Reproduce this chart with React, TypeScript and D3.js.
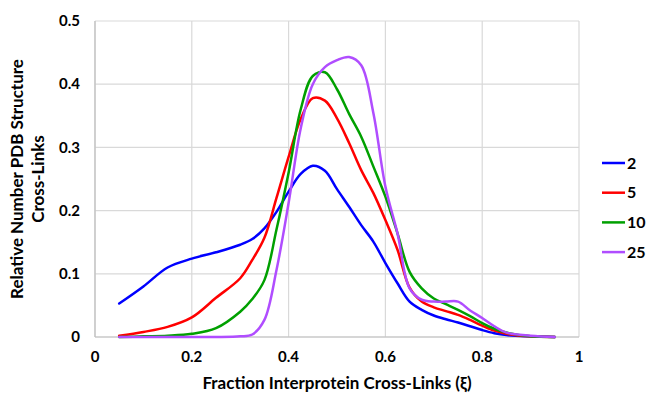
import React from "react";
import * as d3 from "d3";

const xValues = [0.05, 0.1, 0.15, 0.2, 0.25, 0.3, 0.325, 0.35, 0.375, 0.4, 0.425, 0.45, 0.475, 0.5, 0.525, 0.55, 0.575, 0.6, 0.625, 0.65, 0.675, 0.7, 0.725, 0.75, 0.775, 0.8, 0.825, 0.85, 0.9, 0.95];

const series2 = [0.053, 0.08, 0.11, 0.124, 0.134, 0.146, 0.155, 0.172, 0.198, 0.23, 0.258, 0.271, 0.263, 0.234, 0.206, 0.177, 0.151, 0.117, 0.085, 0.056, 0.043, 0.034, 0.028, 0.023, 0.017, 0.011, 0.006, 0.003, 0.001, 0];
const series5 = [0.002, 0.008, 0.016, 0.031, 0.062, 0.093, 0.122, 0.157, 0.22, 0.285, 0.345, 0.378, 0.374, 0.346, 0.307, 0.264, 0.228, 0.185, 0.138, 0.078, 0.056, 0.047, 0.041, 0.035, 0.027, 0.018, 0.01, 0.005, 0.001, 0];
const series10 = [0, 0.001, 0.002, 0.005, 0.014, 0.04, 0.06, 0.09, 0.17, 0.26, 0.36, 0.413, 0.419, 0.392, 0.353, 0.317, 0.27, 0.222, 0.164, 0.103, 0.077, 0.061, 0.052, 0.043, 0.033, 0.022, 0.013, 0.007, 0.001, 0];
const series25 = [0, 0, 0, 0, 0, 0.001, 0.004, 0.027, 0.106, 0.212, 0.33, 0.4, 0.427, 0.438, 0.443, 0.43, 0.355, 0.238, 0.164, 0.077, 0.059, 0.056, 0.056, 0.056, 0.042, 0.03, 0.017, 0.007, 0.002, 0];

const seriesNames = ["2", "5", "10", "25"];
const seriesColors = ["#0000ff", "#ff0000", "#00a000", "#b04dff"];
const seriesValues = [series2, series5, series10, series25];

const xTicks = [0, 0.2, 0.4, 0.6, 0.8, 1];
const xTickLabels = ["0", "0.2", "0.4", "0.6", "0.8", "1"];
const yTicks = [0, 0.1, 0.2, 0.3, 0.4, 0.5];
const yTickLabels = ["0", "0.1", "0.2", "0.3", "0.4", "0.5"];

const W = 647;
const H = 394;
const M = { left: 95, right: 579, top: 21, bottom: 337 };
const FONT = "Lato, 'Open Sans', sans-serif";

export default function App() {
  const x = d3.scaleLinear().domain([0, 1]).range([M.left, M.right]);
  const y = d3.scaleLinear().domain([0, 0.5]).range([M.bottom, M.top]);
  const line = d3
    .line<[number, number]>()
    .x((d) => x(d[0]))
    .y((d) => Math.min(y(d[1]), M.bottom))
    .curve(d3.curveCatmullRom.alpha(0.5));

  return (
    <svg
      width={W}
      height={H}
      style={{ position: "absolute", left: 0, top: 0, background: "#fff" }}
      fontFamily={FONT}
      fontWeight="bold"
    >
      {yTicks.map((t) => (
        <line key={"gy" + t} x1={M.left} x2={M.right} y1={y(t)} y2={y(t)} stroke="#d9d9d9" strokeWidth={1.2} />
      ))}
      {xTicks.map((t) => (
        <line key={"gx" + t} x1={x(t)} x2={x(t)} y1={M.top} y2={M.bottom} stroke="#d9d9d9" strokeWidth={1.2} />
      ))}
      <line x1={M.left} x2={M.right} y1={M.bottom} y2={M.bottom} stroke="#bfbfbf" strokeWidth={1.2} />
      <line x1={M.left} x2={M.left} y1={M.top} y2={M.bottom} stroke="#bfbfbf" strokeWidth={1.2} />

      {yTicks.map((t, i) => (
        <text key={"yl" + t} x={80} y={y(t)} dy="0.35em" textAnchor="end" fontSize={15} fill="#000">
          {yTickLabels[i]}
        </text>
      ))}
      {xTicks.map((t, i) => (
        <text key={"xl" + t} x={x(t)} y={357} dy="0.35em" textAnchor="middle" fontSize={15} fill="#000">
          {xTickLabels[i]}
        </text>
      ))}

      {seriesValues.map((vals, si) => (
        <path
          key={"s" + si}
          d={line(xValues.map((xv, i) => [xv, vals[i]]) as [number, number][]) || ""}
          fill="none"
          stroke={seriesColors[si]}
          strokeWidth={2.5}
          strokeLinejoin="round"
          strokeLinecap="round"
        />
      ))}

      <text x={337} y={383} dy="0.35em" textAnchor="middle" fontSize={17} fill="#000">
        Fraction Interprotein Cross-Links (ξ)
      </text>
      <g transform={`translate(17,179) rotate(-90)`}>
        <text x={0} y={0} dy="0.35em" textAnchor="middle" fontSize={17} fill="#000">
          Relative Number PDB Structure
        </text>
      </g>
      <g transform={`translate(38,179) rotate(-90)`}>
        <text x={0} y={0} dy="0.35em" textAnchor="middle" fontSize={17} fill="#000">
          Cross-Links
        </text>
      </g>

      {seriesNames.map((n, i) => {
        const ly = 163 + i * 29.7;
        return (
          <g key={"lg" + n}>
            <line x1={602} x2={625} y1={ly} y2={ly} stroke={seriesColors[i]} strokeWidth={2.5} />
            <text x={627} y={ly} dy="0.35em" fontSize={16} fill="#000">
              {n}
            </text>
          </g>
        );
      })}
    </svg>
  );
}
